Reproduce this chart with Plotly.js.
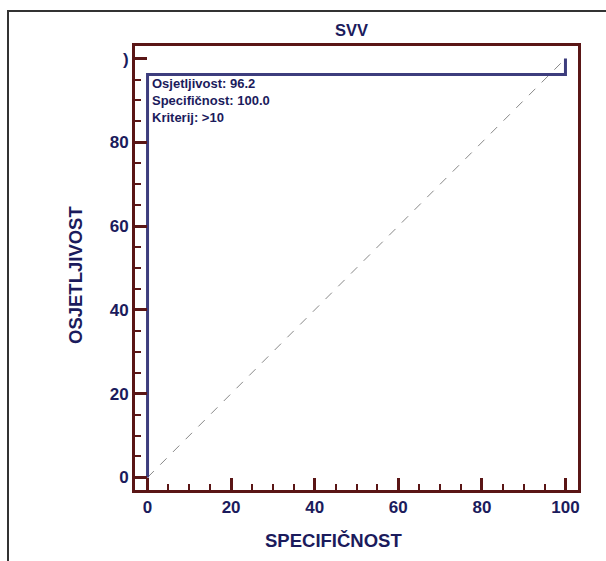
<!DOCTYPE html>
<html>
<head>
<meta charset="utf-8">
<script src="https://cdn.plot.ly/plotly-3.0.1.min.js"></script>
<style>
html,body{margin:0;padding:0;background:#fff;}
#frame{position:absolute;left:7px;top:10px;width:800px;height:800px;border-left:2px solid #333;border-top:2px solid #333;}
#chart{position:absolute;left:0;top:0;width:606px;height:561px;}
</style>
</head>
<body>
<div id="frame"></div>
<div id="chart"></div>
<script>
// ROC curve points (100 - specificity, sensitivity)
const rocX = [0, 0, 100, 100];
const rocY = [0, 96.2, 96.2, 100];
// Reference diagonal
const diagX = [0, 100];
const diagY = [0, 100];
// Tick labels
const xTickVals = [0, 20, 40, 60, 80, 100];
const xTickText = ['0', '20', '40', '60', '80', '100'];
const yTickVals = [0, 20, 40, 60, 80, 100];
const yTickText = ['0', '20', '40', '60', '80', ')'];
const infoLines = ['Osjetljivost: 96.2', 'Specifičnost: 100.0', 'Kriterij: >10'];
const chartTitle = 'SVV';
const xTitle = 'SPECIFIČNOST';
const yTitle = 'OSJETLJIVOST';

const navy = '#1b1b5c';
const maroon = '#5a1616';
const lineCol = '#3d3d7d';
const font = 'Liberation Sans, Arial, sans-serif';

const traces = [
  {x: diagX, y: diagY, mode: 'lines', line: {color: '#888', width: 1, dash: 'dash'}, hoverinfo: 'skip'},
  {x: rocX, y: rocY, mode: 'lines', line: {color: lineCol, width: 3}}
];

const axisCommon = {
  range: [-3, 103],
  showgrid: false, zeroline: false,
  showline: true, mirror: true, linecolor: maroon, linewidth: 3,
  ticks: 'inside', ticklen: 12, tickwidth: 3, tickcolor: maroon,
  tickmode: 'array',
  minor: {ticks: 'inside', ticklen: 6, tickwidth: 2, tickcolor: maroon, dtick: 5, tick0: 0, showgrid: false},
  tickfont: {family: font, size: 17, color: navy, weight: 'bold'},
  fixedrange: true
};

const layout = {
  width: 606, height: 561,
  margin: {l: 135, r: 28, t: 46, b: 71},
  paper_bgcolor: 'rgba(0,0,0,0)',
  plot_bgcolor: '#fff',
  showlegend: false,
  xaxis: Object.assign({}, axisCommon, {tickvals: xTickVals, ticktext: xTickText}),
  yaxis: Object.assign({}, axisCommon, {tickvals: yTickVals, ticktext: yTickText}),
  annotations: [
    {
      x: 0, y: 96.2, xref: 'x', yref: 'y', xanchor: 'left', yanchor: 'top',
      xshift: 2, yshift: 0, align: 'left', showarrow: false,
      text: '<b>' + infoLines.join('<br>') + '</b>',
      font: {family: font, size: 13, color: navy}
    },
    {
      x: 0.488, y: 1 + (46 - 30) / 444, xref: 'paper', yref: 'paper', xanchor: 'center', yanchor: 'middle',
      showarrow: false, text: '<b>' + chartTitle + '</b>',
      font: {family: font, size: 16.5, color: navy}
    },
    {
      x: (333 - 135) / 443, y: -(540 - 490) / 444, xref: 'paper', yref: 'paper', xanchor: 'center', yanchor: 'middle',
      showarrow: false, text: '<b>' + xTitle + '</b>',
      font: {family: font, size: 18.5, color: navy}
    },
    {
      x: (75 - 135) / 443, y: (490 - 275) / 444, xref: 'paper', yref: 'paper', xanchor: 'center', yanchor: 'middle',
      textangle: -90, showarrow: false, text: '<b>' + yTitle + '</b>',
      font: {family: font, size: 18.5, color: navy}
    }
  ]
};

Plotly.newPlot('chart', traces, layout, {displayModeBar: false, staticPlot: true});
</script>
</body>
</html>
